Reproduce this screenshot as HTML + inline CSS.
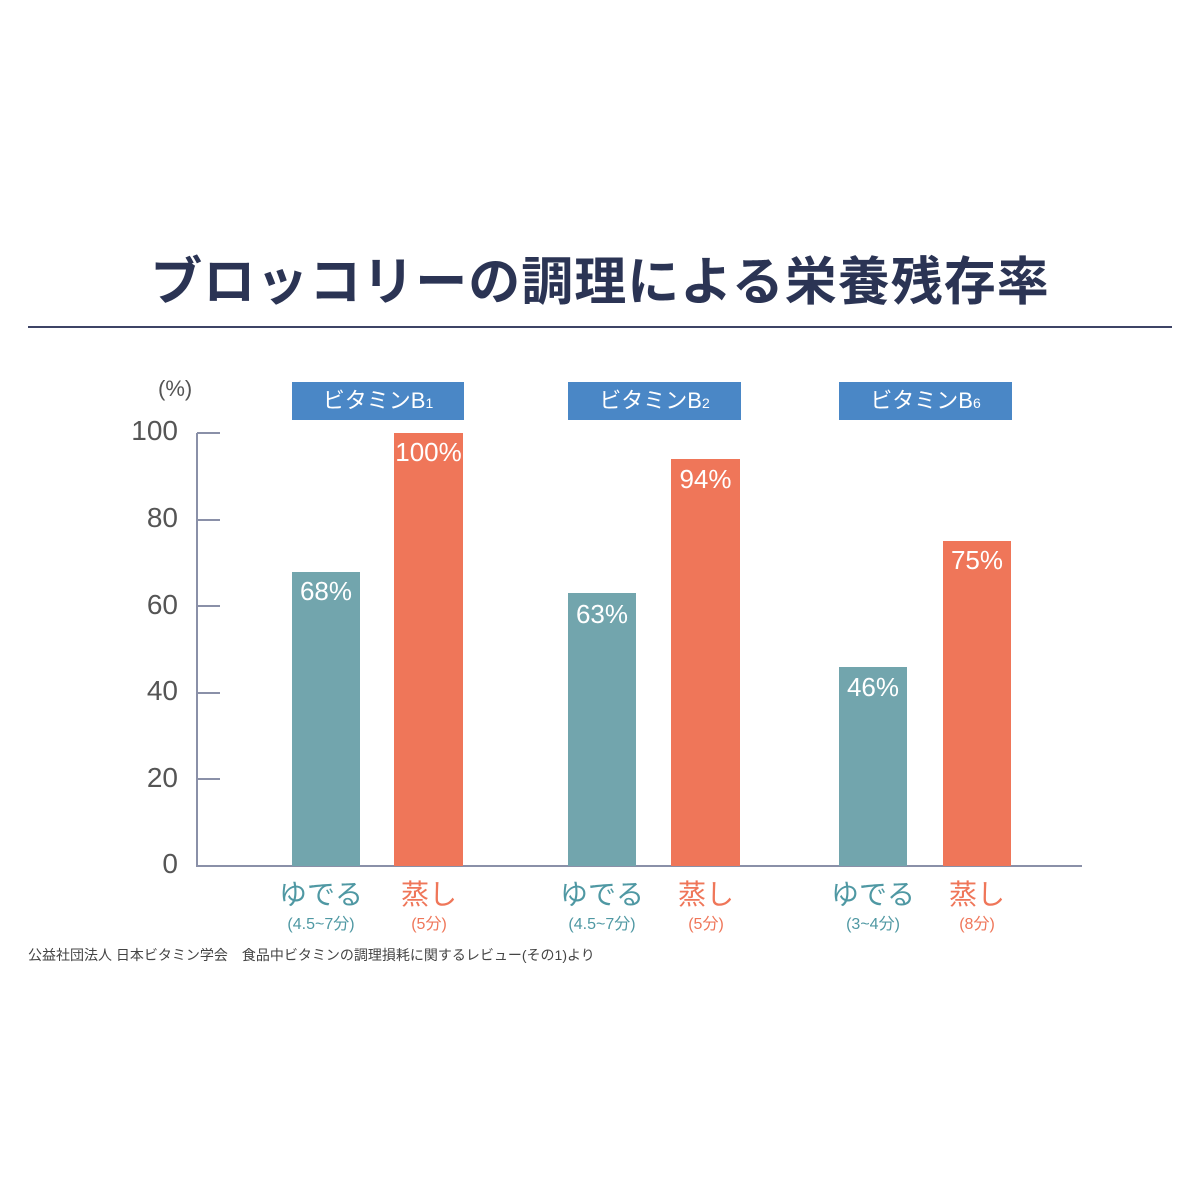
<!DOCTYPE html>
<html><head><meta charset="utf-8"><style>
body{margin:0;width:1200px;height:1200px;background:#fff;overflow:hidden;position:relative;font-family:"Liberation Sans","Noto Sans CJK JP",sans-serif}
.a{position:absolute}
.title{left:0;width:1200px;top:240px;text-align:center;font-size:52px;font-weight:bold;color:#2b3454;letter-spacing:1px}
.hr{left:28px;width:1144px;top:326px;height:2px;background:#3d4466}
.yl{font-size:28px;color:#555;width:80px;text-align:right;left:98px}
.tick{left:197px;width:23px;height:2px;background:#8a90a8}
.t{background:#72a5ad}.o{background:#ef7659}
.v{color:#fff;font-size:26px;text-align:center;font-weight:500}
.hdr{background:#4a87c6;color:#fff;font-size:22px;text-align:center;height:38px;line-height:38px;top:382px}
.lab{font-size:28px;text-align:center;width:120px}
.sub{font-size:16px;text-align:center;width:120px}
.tc{color:#4f98a3}.oc{color:#ef7659}
</style></head><body>
<div class="a title">ブロッコリーの調理による栄養残存率</div>
<div class="a hr"></div>
<div class="a" style="left:158px;top:376px;font-size:22px;color:#555">(%)</div>
<div class="a yl" style="top:415px;left:98px">100</div>
<div class="a yl" style="top:502px">80</div>
<div class="a yl" style="top:589px">60</div>
<div class="a yl" style="top:675px">40</div>
<div class="a yl" style="top:762px">20</div>
<div class="a yl" style="top:848px">0</div>
<div class="a" style="left:196px;top:433px;width:2px;height:434px;background:#8a90a8"></div>
<div class="a tick" style="top:432px"></div>
<div class="a tick" style="top:519px"></div>
<div class="a tick" style="top:605px"></div>
<div class="a tick" style="top:692px"></div>
<div class="a tick" style="top:778px"></div>
<div class="a" style="left:196px;top:865px;width:886px;height:2px;background:#8a90a8"></div>

<div class="a hdr" style="left:292px;width:172px">ビタミンB<span style="font-size:14px">1</span></div>
<div class="a hdr" style="left:568px;width:173px">ビタミンB<span style="font-size:14px">2</span></div>
<div class="a hdr" style="left:839px;width:173px">ビタミンB<span style="font-size:14px">6</span></div>

<div class="a t" style="left:292px;width:68px;top:572px;height:294px"></div>
<div class="a o" style="left:394px;width:69px;top:433px;height:433px"></div>
<div class="a t" style="left:568px;width:68px;top:593px;height:273px"></div>
<div class="a o" style="left:671px;width:69px;top:459px;height:407px"></div>
<div class="a t" style="left:839px;width:68px;top:667px;height:199px"></div>
<div class="a o" style="left:943px;width:68px;top:541px;height:325px"></div>

<div class="a v" style="left:282px;width:88px;top:576px">68%</div>
<div class="a v" style="left:384px;width:89px;top:437px">100%</div>
<div class="a v" style="left:558px;width:88px;top:599px">63%</div>
<div class="a v" style="left:661px;width:89px;top:464px">94%</div>
<div class="a v" style="left:829px;width:88px;top:672px">46%</div>
<div class="a v" style="left:933px;width:88px;top:545px">75%</div>

<div class="a lab tc" style="left:261px;top:873px">ゆでる</div>
<div class="a lab oc" style="left:369px;top:873px">蒸し</div>
<div class="a lab tc" style="left:542px;top:873px">ゆでる</div>
<div class="a lab oc" style="left:646px;top:873px">蒸し</div>
<div class="a lab tc" style="left:813px;top:873px">ゆでる</div>
<div class="a lab oc" style="left:917px;top:873px">蒸し</div>
<div class="a sub tc" style="left:261px;top:910px">(4.5~7分)</div>
<div class="a sub oc" style="left:369px;top:910px">(5分)</div>
<div class="a sub tc" style="left:542px;top:910px">(4.5~7分)</div>
<div class="a sub oc" style="left:646px;top:910px">(5分)</div>
<div class="a sub tc" style="left:813px;top:910px">(3~4分)</div>
<div class="a sub oc" style="left:917px;top:910px">(8分)</div>

<div class="a" style="left:28px;top:945px;font-size:14px;color:#444;white-space:pre">公益社団法人 日本ビタミン学会　食品中ビタミンの調理損耗に関するレビュー(その1)より</div>
</body></html>
